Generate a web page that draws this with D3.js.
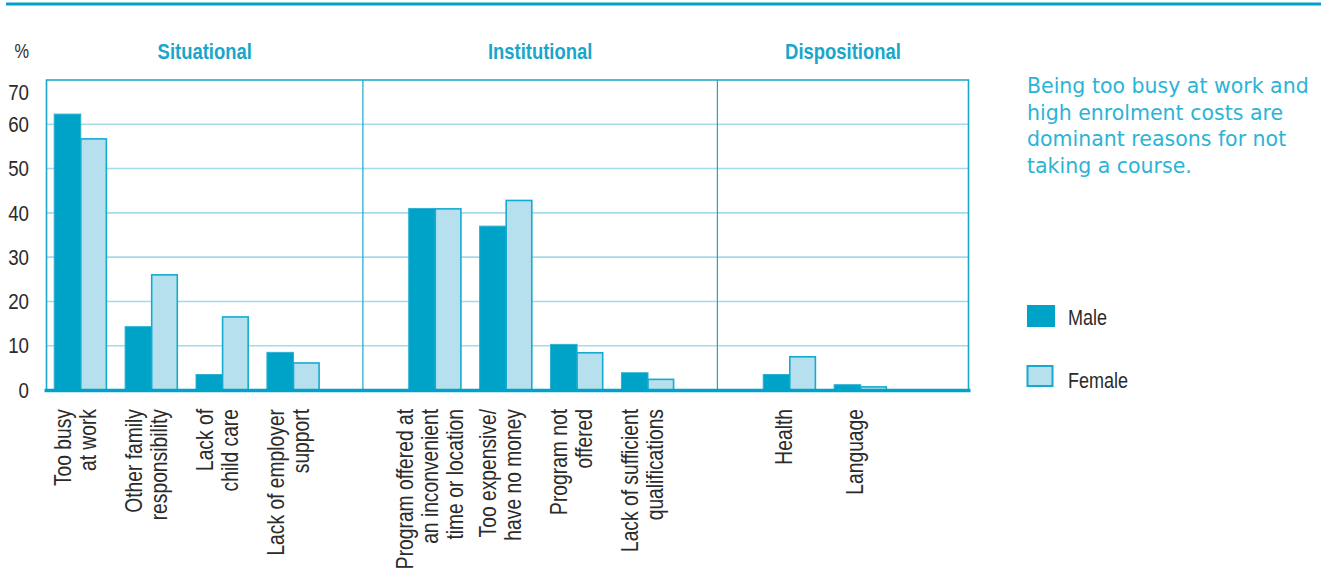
<!DOCTYPE html>
<html>
<head>
<meta charset="utf-8">
<script src="https://cdnjs.cloudflare.com/ajax/libs/d3/7.8.5/d3.min.js"></script>
<style>
body { margin: 0; background: #fff; }
svg text { font-family: "Liberation Sans", Arial, sans-serif; fill: #2b2b2b; }
</style>
</head>
<body>
<svg id="chart" width="1321" height="575"></svg>
<script>
// reasons for not taking a course, by sex
var categories = [
    "Too busy\nat work",
    "Other family\nresponsibility",
    "Lack of\nchild care",
    "Lack of employer\nsupport",
    "Program offered at\nan inconvenient\ntime or location",
    "Too expensive/\nhave no money",
    "Program not\noffered",
    "Lack of sufficient\nqualifications",
    "Health",
    "Language"
];
var groupOf = ["Situational", "Situational", "Situational", "Situational",
    "Institutional", "Institutional", "Institutional", "Institutional",
    "Dispositional", "Dispositional"];
var groupNames = ["Situational", "Institutional", "Dispositional"];
var series = ["Male", "Female"];
var male = [62.3, 14.3, 3.5, 8.5, 41.0, 37.0, 10.3, 3.9, 3.5, 1.2];
var female = [56.7, 26.0, 16.5, 6.1, 40.9, 42.8, 8.4, 2.4, 7.5, 0.7];
var yTicks = [0, 10, 20, 30, 40, 50, 60, 70];
var note = ["Being too busy at work and", "high enrolment costs are",
    "dominant reasons for not", "taking a course."];

(function() {
    var svg = d3.select("#chart");
    var blue = "#00a3c8",
        light = "#b6e0ee",
        grid = "#a3dbeb",
        frameC = "#1aa7cb";
    // no condensed face installed, so squeeze the regular one
    var narrow = " scale(0.82,1)";

    var left = 46.5, right = 968.5, top = 80, bottom = 390;

    // slots: each group followed by an empty slot
    var slots = [];
    groupNames.forEach(function(g) {
        categories.forEach(function(c, i) {
            if (groupOf[i] === g) slots.push(c);
        });
        slots.push("gap-" + g);
    });

    var x = d3.scaleBand().domain(slots).range([left, right])
        .paddingInner(0.25).paddingOuter(0.127).align(0.4);
    var xs = d3.scaleBand().domain(series).range([0, x.bandwidth()]);
    var y = d3.scaleLinear().domain([0, 70]).range([bottom, top]);

    // top rule
    svg.append("line")
        .attr("x1", 6).attr("x2", 1321)
        .attr("y1", 4).attr("y2", 4)
        .attr("stroke", blue).attr("stroke-width", 3);

    // gridlines
    svg.append("g").selectAll("line")
        .data(yTicks.filter(function(d) { return d > 0 && d < 70; }))
        .enter().append("line")
        .attr("x1", left).attr("x2", right)
        .attr("y1", function(d) { return y(d); })
        .attr("y2", function(d) { return y(d); })
        .attr("stroke", grid).attr("stroke-width", 1.6);

    // frame (left, top, right)
    svg.append("path")
        .attr("d", "M" + left + "," + bottom + "V" + top + "H" + right + "V" + bottom)
        .attr("fill", "none").attr("stroke", frameC).attr("stroke-width", 1.6);

    // group dividers + titles
    var bounds = [left];
    groupNames.forEach(function(g, i) {
        if (i < groupNames.length - 1) {
            bounds.push(x("gap-" + g) + x.bandwidth() / 2 - 1);
        }
    });
    bounds.push(right);

    svg.append("g").selectAll("line")
        .data(bounds.slice(1, -1))
        .enter().append("line")
        .attr("x1", function(d) { return d; })
        .attr("x2", function(d) { return d; })
        .attr("y1", top).attr("y2", bottom)
        .attr("stroke", frameC).attr("stroke-width", 1.2);

    svg.append("g").selectAll("text")
        .data(groupNames)
        .enter().append("text")
        .attr("transform", function(d, i) {
            return "translate(" + (bounds[i] + bounds[i + 1]) / 2 + ",59)" + narrow;
        })
        .attr("text-anchor", "middle")
        .style("font-size", "22.5px")
        .style("font-weight", "bold")
        .style("fill", "#18a6cb")
        .text(function(d) { return d; });

    // bars
    var bars = svg.append("g").selectAll("g")
        .data(categories)
        .enter().append("g")
        .attr("transform", function(d) { return "translate(" + x(d) + ",0)"; });

    bars.append("rect")
        .attr("x", xs("Male") + 0.5)
        .attr("y", function(d, i) { return y(male[i]); })
        .attr("width", xs.bandwidth())
        .attr("height", function(d, i) { return y(0) - y(male[i]); })
        .attr("fill", blue)
        .attr("stroke", "#2fb0d2").attr("stroke-width", 1);

    bars.append("rect")
        .attr("x", xs("Female") + 0.5)
        .attr("y", function(d, i) { return y(female[i]); })
        .attr("width", xs.bandwidth() - 1)
        .attr("height", function(d, i) { return y(0) - y(female[i]); })
        .attr("fill", light)
        .attr("stroke", "#17aad0").attr("stroke-width", 1.6);

    // baseline
    svg.append("line")
        .attr("x1", left - 2).attr("x2", right + 2)
        .attr("y1", bottom + 0.5).attr("y2", bottom + 0.5)
        .attr("stroke", blue).attr("stroke-width", 3.5);

    // y axis labels
    var yAxis = svg.append("g")
        .attr("transform", "translate(29,0)")
        .call(d3.axisLeft(y).tickValues(yTicks).tickSize(0).tickPadding(0));
    yAxis.select(".domain").remove();
    yAxis.selectAll("text")
        .style("font-size", "22px")
        .style("font-family", null)
        .attr("transform", "scale(0.85,1)")
        .attr("dy", function(d) { return d === 70 ? "0.9em" : "0.33em"; });

    svg.append("text")
        .attr("transform", "translate(29,58)" + narrow)
        .attr("text-anchor", "end")
        .style("font-size", "20px")
        .text("%");

    // category labels, rotated
    var lineH = 25;
    var labels = svg.append("g").selectAll("text")
        .data(categories)
        .enter().append("text")
        .attr("transform", function(d) {
            return "translate(" + (x(d) + x.bandwidth() / 2 - 4) + ",409) rotate(-90)" + narrow;
        })
        .attr("text-anchor", "end")
        .style("font-size", "23.5px");

    labels.each(function(d) {
        var lines = d.split("\n");
        var n = lines.length;
        d3.select(this).selectAll("tspan")
            .data(lines)
            .enter().append("tspan")
            .attr("x", 0)
            .attr("y", function(l, i) { return 7 + (i - (n - 1) / 2) * lineH; })
            .text(function(l) { return l; });
    });

    // legend
    var legend = svg.append("g").attr("transform", "translate(1027,0)");
    legend.append("rect")
        .attr("x", 0).attr("y", 305).attr("width", 28).attr("height", 22)
        .attr("fill", blue);
    legend.append("rect")
        .attr("x", 0.5).attr("y", 366).attr("width", 25).attr("height", 20)
        .attr("fill", light).attr("stroke", "#17aad0").attr("stroke-width", 2);
    legend.selectAll(".lg")
        .data(series)
        .enter().append("text")
        .attr("class", "lg")
        .attr("transform", function(d, i) {
            return "translate(41," + (i === 0 ? 325 : 388) + ")" + narrow;
        })
        .style("font-size", "22px")
        .text(function(d) { return d; });

    // note
    svg.append("g").selectAll("text")
        .data(note)
        .enter().append("text")
        .attr("x", 1027)
        .attr("y", function(d, i) { return 93 + i * 26.7; })
        .style("font-family", "'DejaVu Sans', sans-serif")
        .style("font-size", "20.5px")
        .style("fill", "#2ab4d6")
        .text(function(d) { return d; });
})();
</script>
</body>
</html>
